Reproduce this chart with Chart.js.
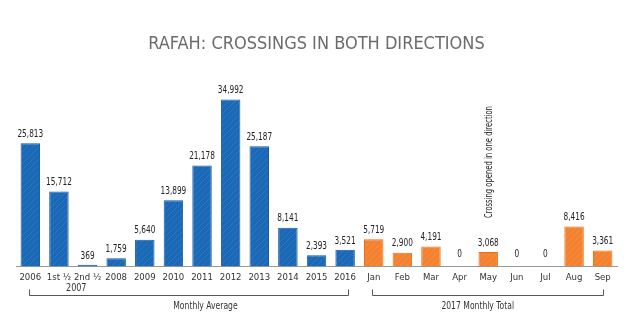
<!DOCTYPE html>
<html>
<head>
<meta charset="utf-8">
<script src="https://cdn.jsdelivr.net/npm/chart.js@4.4.1/dist/chart.umd.min.js"></script>
<style>
html,body{margin:0;padding:0;background:#fff;}
#wrap{width:628px;height:323px;position:relative;}
</style>
</head>
<body>
<div id="wrap"><canvas id="c" width="628" height="323"></canvas></div>
<script>
const categories = ['2006','1st ½','2nd ½','2008','2009','2010','2011','2012','2013','2014','2015','2016',
  'Jan','Feb','Mar','Apr','May','Jun','Jul','Aug','Sep'];
const monthlyAverage = [25813,15712,369,1759,5640,13899,21178,34992,25187,8141,2393,3521,
  null,null,null,null,null,null,null,null,null];
const monthlyTotal2017 = [null,null,null,null,null,null,null,null,null,null,null,null,
  5719,2900,4191,0,3068,0,0,8416,3361];
const titleText = 'RAFAH: CROSSINGS IN BOTH DIRECTIONS';
const group1Label = 'Monthly Average';
const group2Label = '2017 Monthly Total';
const yearLabel = '2007';
const noteText = 'Crossing opened in one direction';

const FONT = "'DejaVu Sans Condensed','Liberation Sans Narrow',sans-serif";

function hatch(base, stripe){
  const p = document.createElement('canvas');
  p.width = 6; p.height = 6;
  const g = p.getContext('2d');
  g.fillStyle = base; g.fillRect(0,0,6,6);
  g.strokeStyle = stripe; g.lineWidth = 1;
  g.beginPath();
  g.moveTo(0,6); g.lineTo(6,0);
  g.moveTo(-3,3); g.lineTo(3,-3);
  g.moveTo(3,9); g.lineTo(9,3);
  g.stroke();
  return g.createPattern(p,'repeat');
}
const ctx0 = document.getElementById('c').getContext('2d');
const bluePat = hatch('#1b69b6','#2a78c2');
const orangePat = hatch('#f3812f','#f7913f');

function narrowText(ctx, text, x, y, sx){
  ctx.save();
  ctx.translate(x, y);
  ctx.scale(sx, 1);
  ctx.fillText(text, 0, 0);
  ctx.restore();
}

const extras = {
  id:'extras',
  afterDatasetsDraw(chart){
    const ctx = chart.ctx;
    const x = chart.scales.x, y = chart.scales.y;
    ctx.save();
    ctx.fillStyle = '#222';
    ctx.font = "10.5px " + FONT;
    ctx.textAlign = 'center';
    ctx.textBaseline = 'middle';
    chart.data.datasets.forEach((ds,di)=>{
      ds.data.forEach((v,i)=>{
        if(v===null||v===undefined) return;
        const px = x.getPixelForValue(i);
        const py = y.getPixelForValue(v);
        const off = v===0 ? 12 : 9;
        narrowText(ctx, v.toLocaleString('en-US'), px, py - off, 0.78);
      });
    });
    // 2007 label
    const bottom = chart.chartArea.bottom;
    ctx.fillStyle = '#333';
    narrowText(ctx, yearLabel, (x.getPixelForValue(1)+x.getPixelForValue(2))/2 + 3, bottom + 21.5, 0.85);
    // brackets
    ctx.strokeStyle = '#555';
    ctx.lineWidth = 1;
    const b1l = x.getPixelForValue(0) - 1.5, b1r = x.getPixelForValue(11) + 3;
    const b2l = x.getPixelForValue(12) - 1.5, b2r = x.getPixelForValue(20) + 0.5;
    const by = Math.round(bottom + 28.5) + 0.5;
    ctx.beginPath();
    ctx.moveTo(Math.round(b1l)+0.5, by-6); ctx.lineTo(Math.round(b1l)+0.5, by); ctx.lineTo(Math.round(b1r)+0.5, by); ctx.lineTo(Math.round(b1r)+0.5, by-6);
    ctx.moveTo(Math.round(b2l)+0.5, by-6); ctx.lineTo(Math.round(b2l)+0.5, by); ctx.lineTo(Math.round(b2r)+0.5, by); ctx.lineTo(Math.round(b2r)+0.5, by-6);
    ctx.stroke();
    ctx.fillStyle = '#333';
    ctx.font = "10px " + FONT;
    narrowText(ctx, group1Label, (b1l+b1r)/2 + 17, bottom + 39.5, 0.85);
    narrowText(ctx, group2Label, (b2l+b2r)/2 - 10, bottom + 39.5, 0.85);
    // vertical note over May
    const mx = x.getPixelForValue(16);
    ctx.translate(mx + 1, 218);
    ctx.rotate(-Math.PI/2);
    ctx.textAlign = 'left';
    ctx.fillStyle = '#222';
    ctx.font = "10.5px " + FONT;
    ctx.scale(0.72, 1);
    ctx.fillText(noteText, 0, 0);
    ctx.restore();
  }
};

new Chart(ctx0, {
  type:'bar',
  data:{
    labels: categories,
    datasets:[
      {label:group1Label, data:monthlyAverage, backgroundColor:bluePat, borderColor:'#17599e', borderWidth:1, grouped:false},
      {label:group2Label, data:monthlyTotal2017, backgroundColor:orangePat, borderColor:'#e66f17', borderWidth:1, grouped:false}
    ]
  },
  options:{
    responsive:false,
    animation:false,
    events:[],
    layout:{padding:{left:16, right:11, top:0, bottom:34}},
    plugins:{
      legend:{display:false},
      tooltip:{enabled:false},
      title:{display:true, text:titleText, color:'#6b6b6b',
        font:{family:FONT, size:18, weight:'normal'}, padding:{top:33.5, bottom:20.5}}
    },
    datasets:{bar:{barPercentage:0.68, categoryPercentage:1}},
    scales:{
      x:{
        grid:{display:false, drawTicks:false},
        border:{display:true, color:'#9a9a9a', width:1},
        ticks:{color:'#333', font:{family:FONT, size:9.5}, padding:5.5, maxRotation:0, autoSkip:false}
      },
      y:{display:false, min:0, max:40000}
    }
  },
  plugins:[extras]
});
</script>
</body>
</html>
